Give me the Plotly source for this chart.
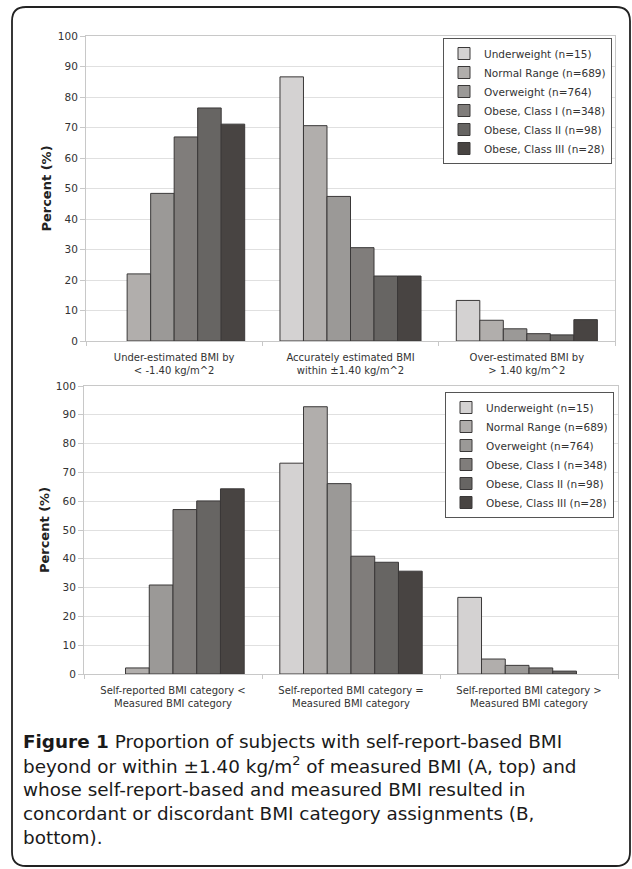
import plotly.graph_objects as go

W, H = 632, 869

series_names = ["Underweight (n=15)", "Normal Range (n=689)", "Overweight (n=764)",
                "Obese, Class I (n=348)", "Obese, Class II (n=98)", "Obese, Class III (n=28)"]
series_colors = ["#d4d2d2", "#b1aeac", "#9b9997", "#807d7b", "#676563", "#484442"]

categories_a = ["Under-estimated BMI by<br>&lt; -1.40 kg/m^2",
                "Accurately estimated BMI<br>within ±1.40 kg/m^2",
                "Over-estimated BMI by<br>&gt; 1.40 kg/m^2"]
categories_b = ["Self-reported BMI category &lt;<br>Measured BMI category",
                "Self-reported BMI category =<br>Measured BMI category",
                "Self-reported BMI category &gt;<br>Measured BMI category"]

underweight_a = [0, 86.6, 13.3]
normal_a = [22.0, 70.6, 6.8]
overweight_a = [48.4, 47.4, 4.0]
obese1_a = [66.9, 30.6, 2.4]
obese2_a = [76.4, 21.3, 2.0]
obese3_a = [71.1, 21.3, 7.0]

underweight_b = [0, 73.2, 26.6]
normal_b = [2.1, 92.8, 5.2]
overweight_b = [30.9, 66.1, 3.0]
obese1_b = [57.1, 40.9, 2.1]
obese2_b = [60.1, 38.8, 1.0]
obese3_b = [64.3, 35.7, 0]

y_ticks = [0, 10, 20, 30, 40, 50, 60, 70, 80, 90, 100]

caption_lines = ["<b>Figure 1</b> Proportion of subjects with self-report-based BMI",
                 "beyond or within ±1.40 kg/m<sup>2</sup> of measured BMI (A, top) and",
                 "whose self-report-based and measured BMI resulted in",
                 "concordant or discordant BMI category assignments (B,",
                 "bottom)."]

values_a = [underweight_a, normal_a, overweight_a, obese1_a, obese2_a, obese3_a]
values_b = [underweight_b, normal_b, overweight_b, obese1_b, obese2_b, obese3_b]


def px_x(x):
    return x / W


def px_y(y):
    return 1 - y / H


fig = go.Figure()
for name, col, vals in zip(series_names, series_colors, values_a):
    fig.add_trace(go.Bar(x=categories_a, y=[v if v > 0 else None for v in vals], name=name,
                         marker=dict(color=col, line=dict(color="#3a3838", width=1)),
                         xaxis="x", yaxis="y", legend="legend"))
for name, col, vals in zip(series_names, series_colors, values_b):
    fig.add_trace(go.Bar(x=categories_b, y=[v if v > 0 else None for v in vals], name=name,
                         marker=dict(color=col, line=dict(color="#3a3838", width=1)),
                         xaxis="x2", yaxis="y2", legend="legend2"))

tick_font = dict(family="DejaVu Sans, Verdana, sans-serif", size=10.5, color="#333333")
xaxis_common = dict(type="category", showgrid=False, showline=True, linecolor="#c8c8c8",
                    linewidth=1, mirror=True, ticks="outside", tickson="boundaries",
                    ticklen=4, ticklabelstandoff=7, tickcolor="#c8c8c8", automargin=False,
                    fixedrange=True,
                    tickfont=dict(family="DejaVu Sans, Verdana, sans-serif", size=10,
                                  color="#333333"))
yaxis_common = dict(range=[0, 100], tickvals=y_ticks, showgrid=True, gridcolor="#e0e0e0",
                    showline=True, linecolor="#c8c8c8", mirror=True, ticks="outside",
                    ticklen=5, tickcolor="#c8c8c8", tickfont=tick_font, zeroline=False,
                    automargin=False,
                    title=dict(text="<b>Percent (%)</b>", standoff=3,
                               font=dict(family="DejaVu Sans, Verdana, sans-serif", size=13,
                                         color="#222222")))

legend_common = dict(xanchor="left", yanchor="top", bgcolor="white", bordercolor="#555555",
                     borderwidth=1, itemwidth=30, tracegroupgap=0,
                     font=dict(family="DejaVu Sans, Verdana, sans-serif", size=10.5,
                               color="#333333"))

fig.update_layout(
    width=W, height=H,
    margin=dict(l=0, r=0, t=0, b=0),
    paper_bgcolor="white", plot_bgcolor="white",
    barmode="group", bargap=0.2, bargroupgap=0,
    xaxis=dict(domain=[px_x(86), px_x(615)], anchor="y", **xaxis_common),
    yaxis=dict(domain=[px_y(341), px_y(36)], anchor="x", **yaxis_common),
    xaxis2=dict(domain=[px_x(84), px_x(618)], anchor="y2", **xaxis_common),
    yaxis2=dict(domain=[px_y(674), px_y(386)], anchor="x2", **yaxis_common),
    legend=dict(x=px_x(443), y=px_y(38), **legend_common),
    legend2=dict(x=px_x(445), y=px_y(392), **legend_common),
    showlegend=True,
)

# rounded frame around the figure
x0, y0, x1, y1, r = px_x(12), px_y(7), px_x(630), px_y(866), 14
rx, ry = r / W, r / H
path = (f"M {x0 + rx},{y0} L {x1 - rx},{y0} Q {x1},{y0} {x1},{y0 - ry} "
        f"L {x1},{y1 + ry} Q {x1},{y1} {x1 - rx},{y1} L {x0 + rx},{y1} "
        f"Q {x0},{y1} {x0},{y1 + ry} L {x0},{y0 - ry} Q {x0},{y0} {x0 + rx},{y0} Z")
fig.add_shape(type="path", path=path, xref="paper", yref="paper",
              line=dict(color="#222222", width=1.8), fillcolor="rgba(0,0,0,0)", layer="below")

for i, line in enumerate(caption_lines):
    fig.add_annotation(text=line, xref="paper", yref="paper", x=px_x(21),
                       y=px_y(741 + 24 * i), xanchor="left", yanchor="middle",
                       align="left", showarrow=False,
                       font=dict(family="DejaVu Sans, sans-serif", size=18.4, color="#1a1a1a"))

fig.write_html("out.html", config={"displayModeBar": False},
               post_script="document.body.style.margin='0';")
